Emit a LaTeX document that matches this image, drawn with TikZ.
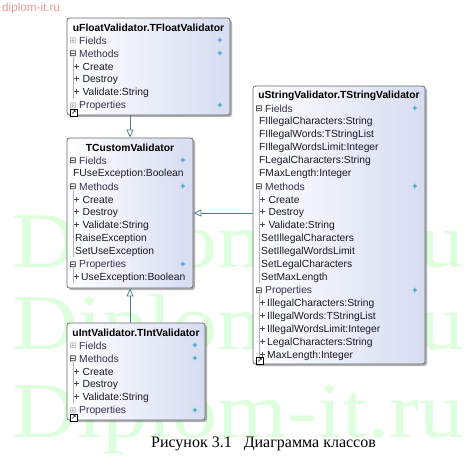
\documentclass[tikz,border=0pt]{standalone}
\usepackage{fontspec}
\setmainfont{Liberation Serif}
\setsansfont{Liberation Sans}
\newfontfamily\iconfont{DejaVu Sans}
\usetikzlibrary{shadows,arrows.meta}

\definecolor{boxBlue}{RGB}{214,221,241}
\definecolor{boxLine}{RGB}{105,105,110}
\definecolor{linkTeal}{RGB}{72,130,128}
\definecolor{plusBlue}{RGB}{40,150,210}
\definecolor{headText}{RGB}{55,45,75}
\definecolor{memberText}{RGB}{25,25,40}
\definecolor{markGreen}{RGB}{222,255,222}
\definecolor{markPink}{RGB}{232,150,150}

\begin{document}
\begin{tikzpicture}[x=1pt, y=-1pt,
    classBox/.style={draw=boxLine, line width=0.8pt, rounded corners=2.5pt, left color=white, right color=boxBlue,
        drop shadow={shadow xshift=2pt, shadow yshift=-2pt, fill=black, opacity=0.3}, inner sep=0},
    classTitle/.style={font=\sffamily\bfseries\fontsize{10.3}{12}\selectfont, text=black, inner sep=0},
    member/.style={anchor=west, font=\sffamily\fontsize{10.3}{12}\selectfont, text=memberText, inner sep=0},
    section/.style={member, text=headText},
    openIcon/.style={font=\iconfont\fontsize{8.5}{8.5}\selectfont, text=black, inner sep=0},
    shutIcon/.style={openIcon, text=black!35},
    addMark/.style={font=\sffamily\bfseries\fontsize{9}{9}\selectfont, text=plusBlue, inner sep=0},
    treeLine/.style={draw=black!30, line width=0.5pt},
    shortcut/.style={draw=black, fill=white, line width=0.6pt, minimum size=7pt, inner sep=0,
        font=\iconfont\bfseries\fontsize{6}{6}\selectfont},
    inherit/.style={draw=linkTeal, line width=0.8pt, -{Triangle[open, length=8pt, width=7pt, fill=white]}},
    watermark/.style={anchor=base west, inner sep=0, font=\rmfamily\fontsize{79}{79}\selectfont, text=markGreen}]

    \useasboundingbox (0,0) rectangle (472,460);

    % watermark
    \node[watermark] (mark1) at (12,267) {\scalebox{1.14}[1]{Diplom-it.ru}};
    \node[watermark] (mark2) at (12,349) {\scalebox{1.14}[1]{Diplom-it.ru}};
    \node[watermark] (mark3) at (12,437) {\scalebox{1.14}[1]{Diplom-it.ru}};
    \node[anchor=west, inner sep=0, font=\sffamily\fontsize{11.7}{12}\selectfont, text=markPink] (site) at (2,8) {diplom-it.ru};

    % class boxes
    \node[classBox, minimum width=163pt, minimum height=97pt] (float) at (148.5,66.5) {};
    \node[classBox, minimum width=126pt, minimum height=150pt] (custom) at (130,213) {};
    \node[classBox, minimum width=172pt, minimum height=278pt] (string) at (339,225) {};
    \node[classBox, minimum width=138pt, minimum height=97pt] (int) at (136,371.5) {};

    \draw[inherit] (float.south -| custom.north) -- (custom.north);
    \draw[inherit] (string.west |- custom.east) -- (custom.east);
    \draw[inherit] (int.north -| custom.south) -- (custom.south);

    % uFloatValidator
    \node[classTitle] (ft) at (148.5,28) {uFloatValidator.TFloatValidator};
    \node[shutIcon] (fi1) at (73,41) {⊞};
    \node[section] (f1) at (79,41) {Fields};
    \node[addMark] (fp1) at (220,41) {+};
    \node[openIcon] (fi2) at (73,54) {⊟};
    \node[section] (f2) at (79,54) {Methods};
    \node[addMark] (fp2) at (220,54) {+};
    \node[member] (f3) at (73.5,67) {+\ Create};
    \node[member] (f4) at (73.5,80) {+\ Destroy};
    \node[member] (f5) at (73.5,93) {+\ Validate:String};
    \node[shutIcon] (fi6) at (73,106) {⊞};
    \node[section] (f6) at (79,106) {Properties};
    \node[addMark] (fp6) at (220,106) {+};
    \draw[treeLine] (fi2.south) -- (fi2.south |- f5.south);
    \node[shortcut] (fs) at (74,113) {↗};

    % TCustomValidator
    \node[classTitle] (ct) at (130,148) {TCustomValidator};
    \node[openIcon] (ci1) at (73,161) {⊟};
    \node[section] (c1) at (79,161) {Fields};
    \node[addMark] (cp1) at (183,161) {+};
    \node[member] (c2) at (73,174) {FUseException:Boolean};
    \node[openIcon] (ci3) at (73,187) {⊟};
    \node[section] (c3) at (79,187) {Methods};
    \node[addMark] (cp3) at (183,187) {+};
    \node[member] (c4) at (73.5,200) {+\ Create};
    \node[member] (c5) at (73.5,213) {+\ Destroy};
    \node[member] (c6) at (73.5,226) {+\ Validate:String};
    \node[member] (c7) at (75,239) {RaiseException};
    \node[member] (c8) at (75,252) {SetUseException};
    \node[openIcon] (ci9) at (73,265) {⊟};
    \node[section] (c9) at (79,265) {Properties};
    \node[addMark] (cp9) at (183,265) {+};
    \node[member] (c10) at (73.5,278) {+\kern1.5pt UseException:Boolean};
    \draw[treeLine] (ci3.south) -- (ci3.south |- c8.south);
    \draw[treeLine] (ci9.south) -- (ci9.south |- c10.south);

    % uStringValidator
    \node[classTitle] (st) at (339,96) {uStringValidator.TStringValidator};
    \node[openIcon] (si1) at (259,109) {⊟};
    \node[section] (s1) at (265,109) {Fields};
    \node[addMark] (sp1) at (415,109) {+};
    \node[member] (s2) at (259,122) {FIllegalCharacters:String};
    \node[member] (s3) at (259,135) {FIllegalWords:TStringList};
    \node[member] (s4) at (259,148) {FIllegalWordsLimit:Integer};
    \node[member] (s5) at (259,161) {FLegalCharacters:String};
    \node[member] (s6) at (259,174) {FMaxLength:Integer};
    \node[openIcon] (si7) at (259,187) {⊟};
    \node[section] (s7) at (265,187) {Methods};
    \node[addMark] (sp7) at (415,187) {+};
    \node[member] (s8) at (259.5,200) {+\ Create};
    \node[member] (s9) at (259.5,213) {+\ Destroy};
    \node[member] (s10) at (259.5,226) {+\ Validate:String};
    \node[member] (s11) at (261,239) {SetIllegalCharacters};
    \node[member] (s12) at (261,252) {SetIllegalWordsLimit};
    \node[member] (s13) at (261,265) {SetLegalCharacters};
    \node[member] (s14) at (261,278) {SetMaxLength};
    \node[openIcon] (si15) at (259,291) {⊟};
    \node[section] (s15) at (265,291) {Properties};
    \node[addMark] (sp15) at (415,291) {+};
    \node[member] (s16) at (259.5,304) {+\kern1.5pt IllegalCharacters:String};
    \node[member] (s17) at (259.5,317) {+\kern1.5pt IllegalWords:TStringList};
    \node[member] (s18) at (259.5,330) {+\kern1.5pt IllegalWordsLimit:Integer};
    \node[member] (s19) at (259.5,343) {+\kern1.5pt LegalCharacters:String};
    \node[member] (s20) at (259.5,356) {+\kern1.5pt MaxLength:Integer};
    \draw[treeLine] (si7.south) -- (si7.south |- s14.south);
    \draw[treeLine] (si15.south) -- (si15.south |- s20.south);
    \node[shortcut] (ss) at (260,361) {↗};

    % uIntValidator
    \node[classTitle] (it) at (136,333) {uIntValidator.TIntValidator};
    \node[shutIcon] (ii1) at (73,346) {⊞};
    \node[section] (i1) at (79,346) {Fields};
    \node[addMark] (ip1) at (195,346) {+};
    \node[openIcon] (ii2) at (73,359) {⊟};
    \node[section] (i2) at (79,359) {Methods};
    \node[addMark] (ip2) at (195,359) {+};
    \node[member] (i3) at (73.5,372) {+\ Create};
    \node[member] (i4) at (73.5,385) {+\ Destroy};
    \node[member] (i5) at (73.5,398) {+\ Validate:String};
    \node[shutIcon] (ii6) at (73,411) {⊞};
    \node[section] (i6) at (79,411) {Properties};
    \node[addMark] (ip6) at (195,411) {+};
    \draw[treeLine] (ii2.south) -- (ii2.south |- i5.south);
    \node[shortcut] (is) at (74,418) {↗};

    % caption
    \node[anchor=base, inner sep=0, font=\rmfamily\fontsize{16}{16}\selectfont] (caption) at (263.5,447) {Рисунок 3.1\hspace{0.5em} Диаграмма классов};
\end{tikzpicture}
\end{document}
